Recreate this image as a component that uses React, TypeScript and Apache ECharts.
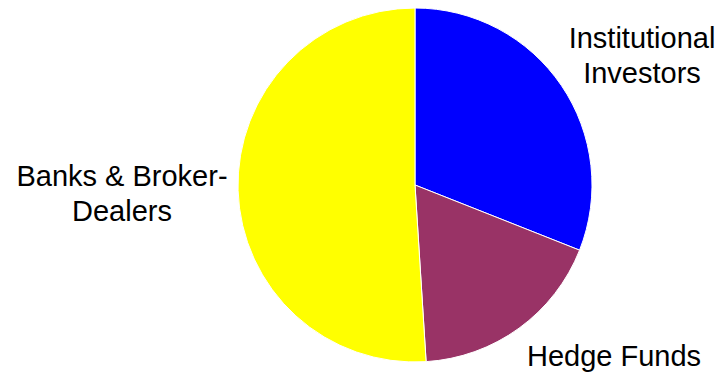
import React, { useEffect, useRef } from "react";
import * as echarts from "echarts";

const categories = ["Institutional Investors", "Hedge Funds", "Banks & Broker-Dealers"];
const labelTexts = ["Institutional\nInvestors", "Hedge Funds", "Banks & Broker-\nDealers"];
const values = [31, 18, 51];
const colors = ["#0000FF", "#993366", "#FFFF00"];
const labelPos = [
  [642, 55],
  [614, 356],
  [122, 193],
];

export default function App() {
  const ref = useRef<HTMLDivElement>(null);
  useEffect(() => {
    document.body.style.margin = "0";
    const chart = echarts.init(ref.current!, null, { renderer: "svg" });
    chart.setOption({
      animation: false,
      backgroundColor: "#ffffff",
      series: [
        {
          type: "pie",
          center: [415, 185],
          radius: [0, 177],
          startAngle: 90,
          clockwise: true,
          data: categories.map((name, i) => ({
            name,
            value: values[i],
            itemStyle: { color: colors[i] },
            label: { formatter: labelTexts[i] },
          })),
          itemStyle: { borderColor: "#ffffff", borderWidth: 1 },
          label: {
            show: true,
            position: "outside",
            color: "#000000",
            fontFamily: "Liberation Sans, Arial, sans-serif",
            fontSize: 29,
            lineHeight: 35,
            align: "center",
            overflow: "none",
            width: 300,
          },
          labelLine: { show: false },
          labelLayout: (p: any) => ({
            x: labelPos[p.dataIndex][0],
            y: labelPos[p.dataIndex][1],
            align: "center",
            verticalAlign: "middle",
            hideOverlap: false,
            moveOverlap: null,
          }),
          emphasis: { disabled: true },
        },
      ],
    });
    return () => chart.dispose();
  }, []);
  return <div ref={ref} style={{ width: 721, height: 373, position: "absolute", left: 0, top: 0 }} />;
}
